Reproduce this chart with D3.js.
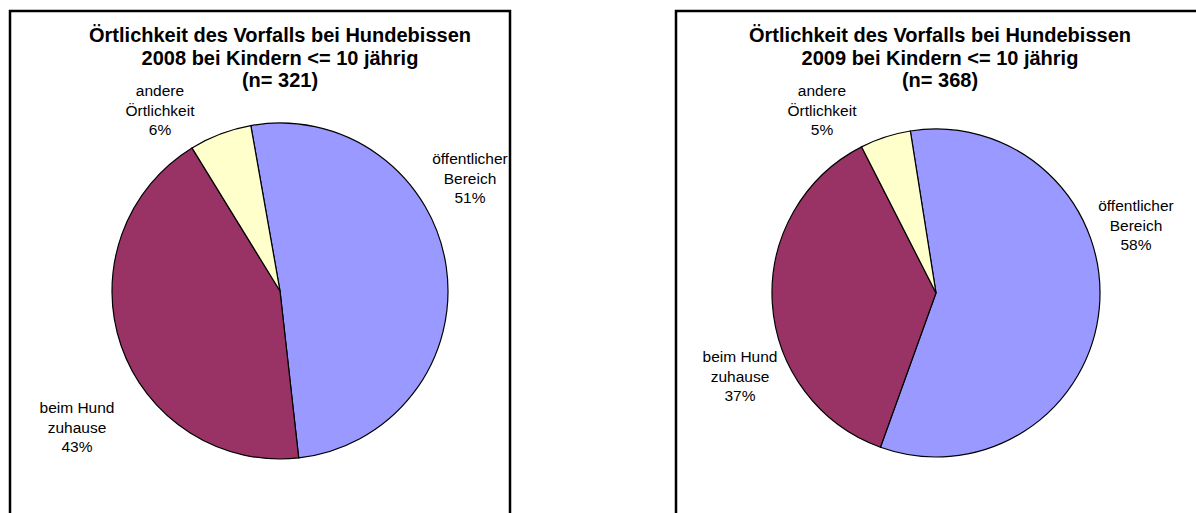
<!DOCTYPE html>
<html>
<head>
<meta charset="utf-8">
<script src="https://cdn.jsdelivr.net/npm/d3@7"></script>
<style>
  body { margin: 0; background: #fff; }
  svg { display: block; }
  text { font-family: "Liberation Sans", Arial, sans-serif; fill: #000; }
</style>
</head>
<body>
<svg id="chart" width="1196" height="513"></svg>
<script>
// categories in drawing order (clockwise from the start angle)
const categories = ["öffentlicher Bereich", "beim Hund zuhause", "andere Örtlichkeit"];
const labelLines = [["öffentlicher", "Bereich"], ["beim Hund", "zuhause"], ["andere", "Örtlichkeit"]];
const colors = ["#9999FF", "#993366", "#FFFFCC"];

// percentages per year
const values2008 = [51, 43, 6];
const values2009 = [58, 37, 5];

const titles2008 = ["Örtlichkeit des Vorfalls bei Hundebissen", "2008 bei Kindern <= 10 jährig", "(n= 321)"];
const titles2009 = ["Örtlichkeit des Vorfalls bei Hundebissen", "2009 bei Kindern <= 10 jährig", "(n= 368)"];

const svg = d3.select("#chart");

function drawPanel(opts) {
  const { box, cx, cy, radius, startDeg, values, titles, titleX, labelPos } = opts;

  // frame (bottom side runs off the picture)
  svg.append("rect")
    .attr("x", box.x).attr("y", box.y)
    .attr("width", box.w).attr("height", box.h)
    .attr("fill", "none")
    .attr("stroke", "#000")
    .attr("stroke-width", 2.5);

  const g = svg.append("g").attr("transform", `translate(${cx},${cy})`);

  const start = startDeg * Math.PI / 180;
  const pie = d3.pie().sort(null).value(d => d)
    .startAngle(start).endAngle(start + 2 * Math.PI);
  const arc = d3.arc().innerRadius(0).outerRadius(radius);

  g.selectAll("path")
    .data(pie(values))
    .join("path")
    .attr("d", arc)
    .attr("fill", (d, i) => colors[i])
    .attr("stroke", "#000")
    .attr("stroke-width", 1.2);

  // title
  const t = svg.append("text")
    .attr("x", titleX).attr("y", 42)
    .attr("text-anchor", "middle")
    .style("font-size", "20px")
    .style("font-weight", "bold");
  titles.forEach((line, i) => {
    t.append("tspan").attr("x", titleX).attr("dy", i === 0 ? 0 : 22.5).text(line);
  });

  // slice labels
  values.forEach((v, i) => {
    const [lx, ly] = labelPos[i];
    const lt = svg.append("text")
      .attr("x", lx).attr("y", ly)
      .attr("text-anchor", "middle")
      .style("font-size", "15.5px");
    labelLines[i].concat([v + "%"]).forEach((line, j) => {
      lt.append("tspan").attr("x", lx).attr("dy", j === 0 ? 0 : 19.5).text(line);
    });
  });
}

drawPanel({
  box: { x: 10, y: 11, w: 500, h: 520 },
  cx: 280, cy: 291, radius: 168,
  startDeg: -10,
  values: values2008,
  titles: titles2008,
  titleX: 280,
  labelPos: [[470, 164], [77, 413], [160, 96]]
});

drawPanel({
  box: { x: 676, y: 11, w: 540, h: 520 },
  cx: 936, cy: 293, radius: 164,
  startDeg: -9,
  values: values2009,
  titles: titles2009,
  titleX: 940,
  labelPos: [[1136, 211], [740, 362], [822, 96]]
});
</script>
</body>
</html>
